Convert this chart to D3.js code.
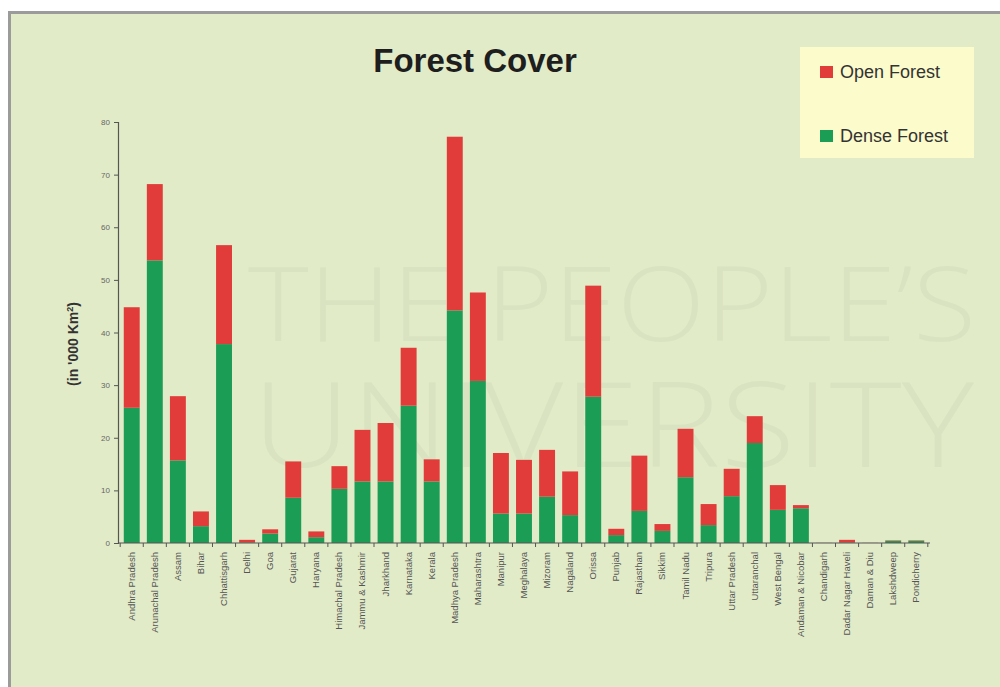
<!DOCTYPE html>
<html>
<head>
<meta charset="utf-8">
<script src="https://cdn.jsdelivr.net/npm/d3@7"></script>
<style>
  html, body { margin: 0; padding: 0; background: #ffffff; }
  svg { display: block; }
</style>
</head>
<body>
<svg id="chart" width="1000" height="687"></svg>
<script>
// Forest cover by state / union territory, in thousand km²
const states = [
  "Andhra Pradesh", "Arunachal Pradesh", "Assam", "Bihar", "Chhattisgarh",
  "Delhi", "Goa", "Gujarat", "Haryana", "Himachal Pradesh",
  "Jammu & Kashmir", "Jharkhand", "Karnataka", "Kerala", "Madhya Pradesh",
  "Maharashtra", "Manipur", "Meghalaya", "Mizoram", "Nagaland",
  "Orissa", "Punjab", "Rajasthan", "Sikkim", "Tamil Nadu",
  "Tripura", "Uttar Pradesh", "Uttaranchal", "West Bengal", "Andaman & Nicobar",
  "Chandigarh", "Dadar Nagar Haveli", "Daman & Diu", "Lakshdweep", "Pondicherry"
];
const denseForest = [
  25.7, 53.7, 15.7, 3.2, 37.8,
  0.1, 1.8, 8.6, 1.1, 10.3,
  11.7, 11.7, 26.1, 11.7, 44.2,
  30.8, 5.6, 5.6, 8.8, 5.3,
  27.8, 1.5, 6.1, 2.3, 12.5,
  3.4, 8.9, 19.0, 6.3, 6.6,
  0.01, 0.1, 0.01, 0.4, 0.4
];
const openForest = [
  19.1, 14.5, 12.2, 2.8, 18.8,
  0.5, 0.8, 6.9, 1.1, 4.3,
  9.8, 11.1, 11.0, 4.2, 33.0,
  16.8, 11.5, 10.2, 8.9, 8.3,
  21.1, 1.2, 10.5, 1.3, 9.2,
  4.0, 5.2, 5.1, 4.7, 0.6,
  0.01, 0.5, 0.01, 0.1, 0.1
];
const yTicks = [0, 10, 20, 30, 40, 50, 60, 70, 80];
const seriesNames = ["Open Forest", "Dense Forest"];

const colors = { "Dense Forest": "#1c9d56", "Open Forest": "#e13b3a" };

const rows = states.map((s, i) => ({
  state: s,
  "Dense Forest": denseForest[i],
  "Open Forest": openForest[i]
}));

const svg = d3.select("#chart");

// frame and panel background
svg.append("rect")
  .attr("x", 9.5).attr("y", 12.5)
  .attr("width", 1010).attr("height", 700)
  .attr("fill", "#e2ebc8")
  .attr("stroke", "#9b9b9b")
  .attr("stroke-width", 3);

// faint backdrop lettering
const wm = svg.append("g")
  .attr("fill", "#dae3c1")
  .attr("font-family", "'Open Sans', sans-serif")
  .attr("font-weight", 300);
wm.append("text").attr("x", 248).attr("y", 341).attr("font-size", 104)
  .attr("textLength", 728).attr("lengthAdjust", "spacingAndGlyphs").text("THE PEOPLE\u2019S");
wm.append("text").attr("x", 252).attr("y", 467).attr("font-size", 118)
  .attr("textLength", 722).attr("lengthAdjust", "spacingAndGlyphs").text("UNIVERSITY");

// scales
const x = d3.scaleBand()
  .domain(states)
  .range([118, 930])
  .paddingInner(0.31)
  .paddingOuter(0.25);

const y = d3.scaleLinear()
  .domain([0, 80])
  .range([543, 122]);

// stacked bars
const stack = d3.stack().keys(["Dense Forest", "Open Forest"]);
const layers = stack(rows);

svg.append("g")
  .selectAll("g")
  .data(layers)
  .join("g")
  .attr("fill", d => colors[d.key])
  .selectAll("rect")
  .data(d => d)
  .join("rect")
  .attr("x", d => x(d.data.state))
  .attr("width", x.bandwidth())
  .attr("y", d => y(d[1]))
  .attr("height", d => Math.max(0, y(d[0]) - y(d[1])));

// y axis
const yAxis = d3.axisLeft(y).tickValues(yTicks).tickSize(4).tickPadding(4);
const yg = svg.append("g")
  .attr("transform", "translate(118,0)")
  .call(yAxis);
yg.select(".domain").attr("stroke", "#555").attr("stroke-width", 1.2);
yg.selectAll(".tick line").attr("stroke", "#555");
yg.selectAll(".tick text")
  .attr("fill", "#666")
  .attr("font-size", 8)
  .attr("font-family", "'Liberation Sans', Arial, sans-serif");

// x axis: ticks between categories
const step = x.step();
const xg = svg.append("g").attr("transform", "translate(0,543)");
xg.append("line")
  .attr("x1", 118).attr("x2", 930)
  .attr("stroke", "#555").attr("stroke-width", 1.2);
xg.selectAll("line.tick")
  .data(states.concat(["__end"]))
  .join("line")
  .attr("class", "tick")
  .attr("x1", (d, i) => x.range()[0] + x.paddingOuter() * step - x.paddingInner() * step / 2 + i * step)
  .attr("x2", (d, i) => x.range()[0] + x.paddingOuter() * step - x.paddingInner() * step / 2 + i * step)
  .attr("y1", 0).attr("y2", 4)
  .attr("stroke", "#555");

// category labels, rotated
svg.append("g")
  .selectAll("text")
  .data(states)
  .join("text")
  .attr("transform", d => `translate(${x(d) + x.bandwidth() / 2 + 3},552) rotate(-90)`)
  .attr("text-anchor", "end")
  .attr("fill", "#555")
  .attr("font-size", 9.5)
  .attr("font-family", "'Liberation Sans', Arial, sans-serif")
  .text(d => d);

// y axis title
const yt = svg.append("text")
  .attr("transform", "translate(78,344) rotate(-90)")
  .attr("text-anchor", "middle")
  .attr("fill", "#333")
  .attr("font-size", 14)
  .attr("font-weight", "bold")
  .attr("font-family", "'Liberation Sans', Arial, sans-serif");
yt.append("tspan").text("(in '000 Km");
yt.append("tspan").attr("font-size", 9).attr("dy", -5).text("2");
yt.append("tspan").attr("dy", 5).text(")");

// chart title
svg.append("text")
  .attr("x", 475).attr("y", 72)
  .attr("text-anchor", "middle")
  .attr("fill", "#1e1e1e")
  .attr("font-size", 33)
  .attr("font-weight", "bold")
  .attr("font-family", "'Liberation Sans', Arial, sans-serif")
  .text("Forest Cover");

// legend
const lg = svg.append("g");
lg.append("rect")
  .attr("x", 800).attr("y", 47)
  .attr("width", 174).attr("height", 111)
  .attr("fill", "#fcfbcb");
seriesNames.forEach((name, i) => {
  const cy = 72 + i * 64;
  lg.append("rect")
    .attr("x", 820).attr("y", cy - 6)
    .attr("width", 13).attr("height", 12)
    .attr("fill", colors[name]);
  lg.append("text")
    .attr("x", 840).attr("y", cy + 6)
    .attr("fill", "#333")
    .attr("font-size", 18)
    .attr("font-family", "'Liberation Sans', Arial, sans-serif")
    .text(name);
});
</script>
</body>
</html>
